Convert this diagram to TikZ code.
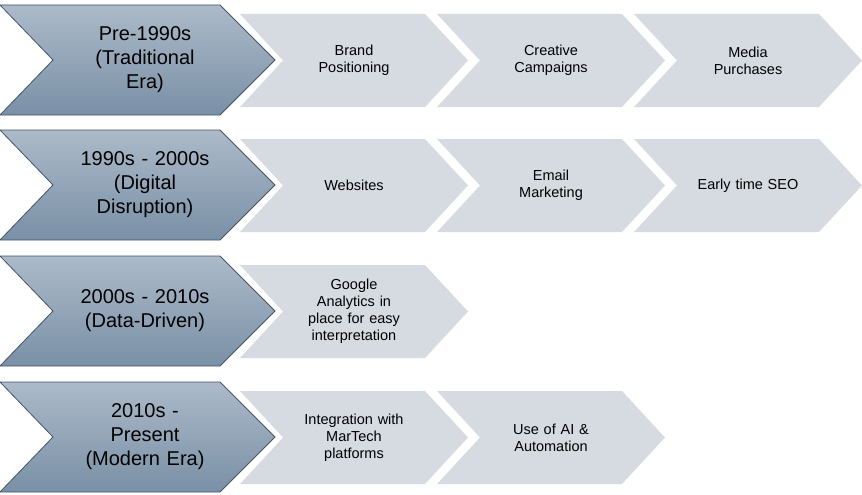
\documentclass[tikz,border=0pt]{standalone}
\usepackage{fontspec}
\setmainfont{Liberation Sans}
\definecolor{eratop}{RGB}{172, 186, 201}
\definecolor{erabot}{RGB}{122, 144, 166}
\definecolor{eraline}{RGB}{68, 84, 106}
\definecolor{stepfill}{RGB}{214, 219, 226}
% era chevron: #1 top y, #2 name, #3 text
\newcommand{\erachev}[3]{\path[top color=eratop,bottom color=erabot,draw=eraline,line width=0.8pt]
		(0pt,-#1) -- (220pt,-#1) -- (275pt,-#1-55pt) -- (220pt,-#1-110pt) -- (0pt,-#1-110pt) -- (53pt,-#1-55pt) -- cycle;
	\node[eratext] (#2) at (145pt,-#1-55pt) {#3}; }
% step chevron: #1 top y, #2 index, #3 name, #4 text
\newcommand{\stepchev}[4]{\fill[stepfill] ({240pt+197pt*#2},-#1-9pt) -- ++(185pt,0) -- ++(43pt,-46.5pt) -- ++(-43pt,-46.5pt) -- ++(-185pt,0) -- ++(43pt,46.5pt) -- cycle;
	\node[steptext] (#3) at ({354pt+197pt*#2},-#1-55.5pt) {#4}; }
\tikzset{eratext/.style={align=center,font=\fontsize{20}{24}\selectfont,text width=170pt},
	steptext/.style={align=center,font=\fontsize{14.5}{17}\selectfont,text width=140pt}}

\begin{document}
\begin{tikzpicture}
	\useasboundingbox (0,0) rectangle (862pt,-495pt);
				\erachev{5pt}{pre}{Pre-1990s\\(Traditional\\Era)}
				\stepchev{5pt}{0}{brand}{Brand\\Positioning}
				\stepchev{5pt}{1}{creative}{Creative\\Campaigns}
				\stepchev{5pt}{2}{media}{Media\\Purchases}
				\erachev{130pt}{digital}{1990s - 2000s\\(Digital\\Disruption)}
				\stepchev{130pt}{0}{web}{Websites}
				\stepchev{130pt}{1}{email}{Email\\Marketing}
				\stepchev{130pt}{2}{seo}{Early time SEO}
				\erachev{256pt}{data}{2000s - 2010s\\(Data-Driven)}
				\stepchev{256pt}{0}{ga}{Google\\Analytics in\\place for easy\\interpretation}
				\erachev{382pt}{modern}{2010s -\\Present\\(Modern Era)}
				\stepchev{382pt}{0}{martech}{Integration with\\MarTech\\platforms}
				\stepchev{382pt}{1}{ai}{Use of AI \&\\Automation}
			\end{tikzpicture}
\end{document}
